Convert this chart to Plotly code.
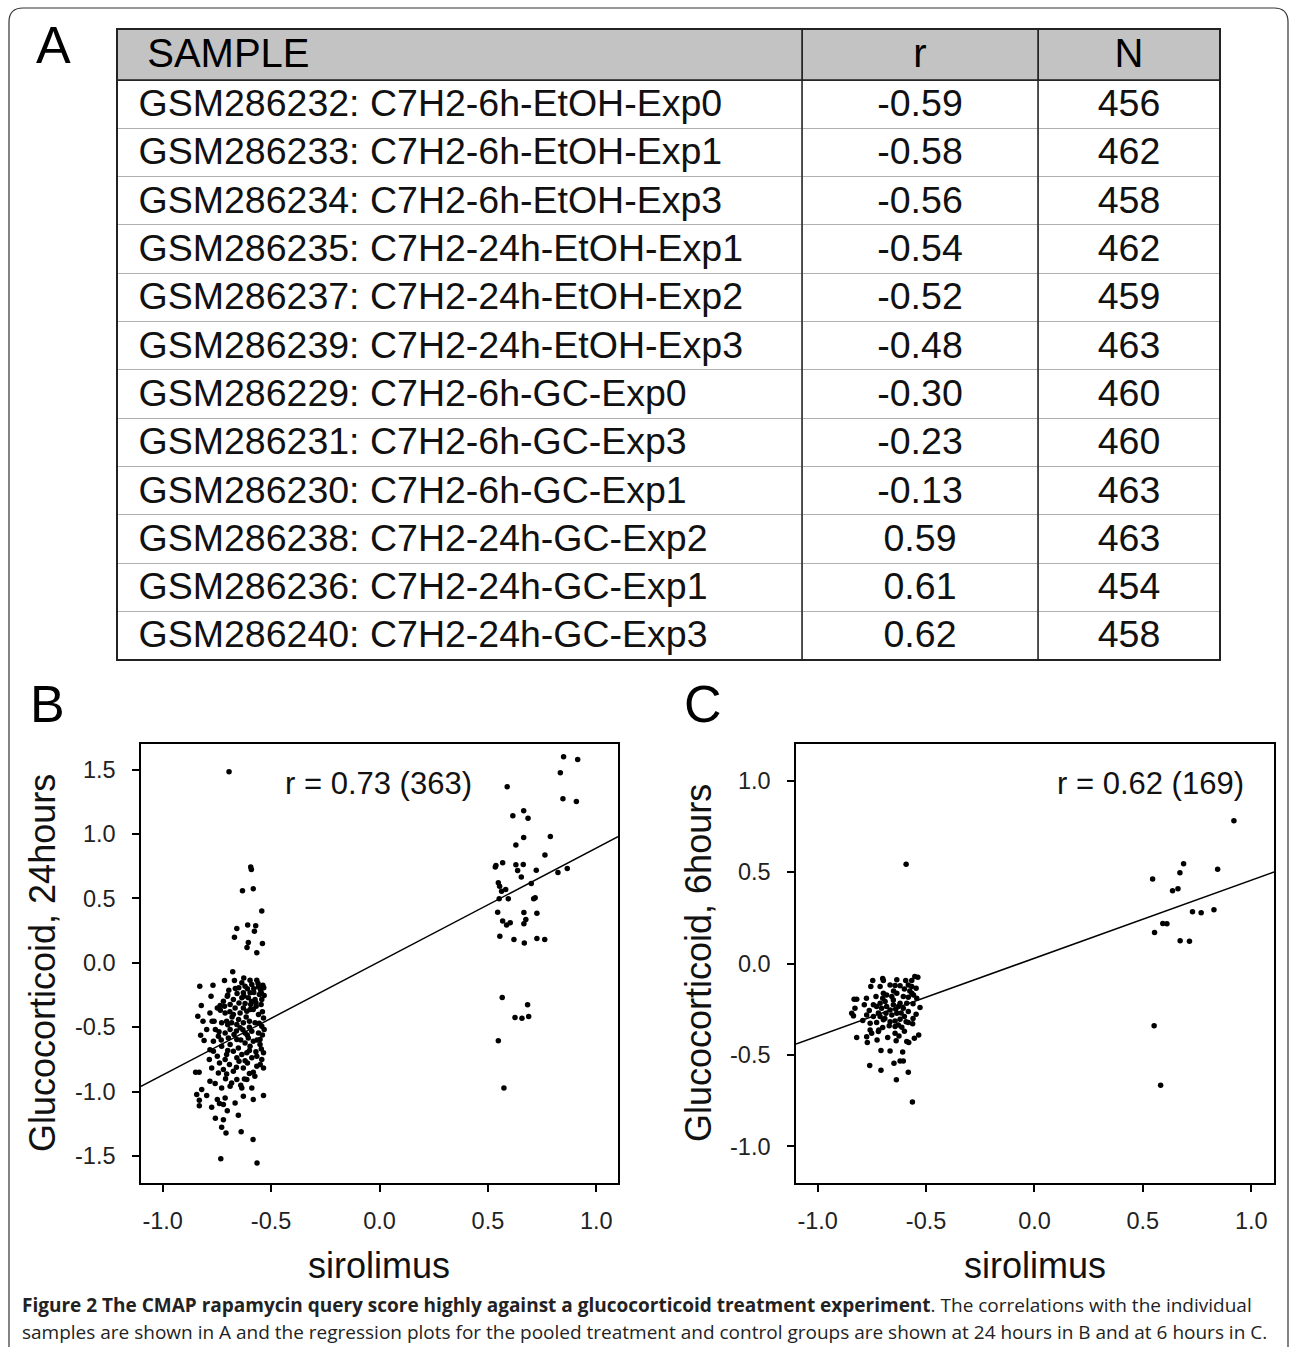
import plotly.graph_objects as go

W, H = 1290, 1347

# ---------------- Panel A data ----------------
samples = [
    "GSM286232: C7H2-6h-EtOH-Exp0",
    "GSM286233: C7H2-6h-EtOH-Exp1",
    "GSM286234: C7H2-6h-EtOH-Exp3",
    "GSM286235: C7H2-24h-EtOH-Exp1",
    "GSM286237: C7H2-24h-EtOH-Exp2",
    "GSM286239: C7H2-24h-EtOH-Exp3",
    "GSM286229: C7H2-6h-GC-Exp0",
    "GSM286231: C7H2-6h-GC-Exp3",
    "GSM286230: C7H2-6h-GC-Exp1",
    "GSM286238: C7H2-24h-GC-Exp2",
    "GSM286236: C7H2-24h-GC-Exp1",
    "GSM286240: C7H2-24h-GC-Exp3",
]
r_values = [-0.59, -0.58, -0.56, -0.54, -0.52, -0.48, -0.30, -0.23, -0.13, 0.59, 0.61, 0.62]
n_values = [456, 462, 458, 462, 459, 463, 460, 460, 463, 463, 454, 458]
table_header = ["SAMPLE", "r", "N"]

# ---------------- Panel B data (24 hours) ----------------
b_points = [
    # treated cluster
    (0.849, 1.601), (0.914, 1.580), (0.834, 1.477), (0.589, 1.368), (0.846, 1.275), (0.908, 1.254),
    (0.615, 1.142), (0.665, 1.181), (0.685, 1.124), (0.788, 0.982), (0.665, 0.974), (0.629, 0.915),
    (0.763, 0.837), (0.537, 0.756), (0.568, 0.777), (0.629, 0.762), (0.663, 0.764), (0.534, 0.744),
    (0.637, 0.718), (0.723, 0.720), (0.823, 0.702), (0.866, 0.733), (0.654, 0.666), (0.700, 0.617),
    (0.548, 0.622), (0.554, 0.596), (0.582, 0.570), (0.563, 0.557), (0.552, 0.497), (0.594, 0.497),
    (0.711, 0.497), (0.718, 0.505), (0.545, 0.394), (0.666, 0.391), (0.726, 0.386), (0.675, 0.337),
    (0.568, 0.326), (0.603, 0.311), (0.586, 0.295), (0.666, 0.303), (0.555, 0.207), (0.620, 0.181),
    (0.668, 0.155), (0.726, 0.189), (0.762, 0.181), (0.566, -0.269), (0.683, -0.326), (0.625, -0.425),
    (0.657, -0.430), (0.688, -0.417), (0.548, -0.606), (0.574, -0.972),
    # control cluster, upper sparse part
    (-0.694, 1.484), (-0.594, 0.744), (-0.591, 0.725), (-0.632, 0.560), (-0.582, 0.575), (-0.543, 0.402),
    (-0.658, 0.267), (-0.608, 0.295), (-0.571, 0.288), (-0.577, 0.246), (-0.669, 0.199), (-0.605, 0.158),
    (-0.540, 0.150), (-0.611, 0.119), (-0.566, 0.078),
    # control cluster, dense part
    (-0.677, -0.070), (-0.715, -0.137), (-0.669, -0.137), (-0.626, -0.117), (-0.597, -0.135), (-0.566, -0.135),
    (-0.538, -0.174), (-0.829, -0.181), (-0.768, -0.174), (-0.635, -0.155), (-0.649, -0.194), (-0.695, -0.212),
    (-0.609, -0.202), (-0.580, -0.202), (-0.558, -0.187), (-0.534, -0.194), (-0.777, -0.259), (-0.702, -0.259),
    (-0.657, -0.238), (-0.628, -0.233), (-0.597, -0.233), (-0.554, -0.246), (-0.532, -0.254), (-0.822, -0.332),
    (-0.735, -0.332), (-0.715, -0.337), (-0.689, -0.324), (-0.648, -0.311), (-0.620, -0.316), (-0.594, -0.324),
    (-0.569, -0.337), (-0.546, -0.324), (-0.838, -0.415), (-0.814, -0.453), (-0.772, -0.453), (-0.763, -0.453),
    (-0.734, -0.368), (-0.712, -0.389), (-0.674, -0.402), (-0.643, -0.389), (-0.612, -0.376), (-0.582, -0.363),
    (-0.558, -0.402), (-0.535, -0.428), (-0.728, -0.466), (-0.705, -0.453), (-0.682, -0.466), (-0.658, -0.479),
    (-0.628, -0.466), (-0.600, -0.453), (-0.574, -0.466), (-0.543, -0.492), (-0.689, -0.518), (-0.643, -0.505),
    (-0.740, -0.536), (-0.825, -0.562), (-0.809, -0.604), (-0.743, -0.570), (-0.712, -0.544), (-0.671, -0.557),
    (-0.620, -0.544), (-0.589, -0.531), (-0.558, -0.544), (-0.532, -0.518), (-0.782, -0.674), (-0.766, -0.687),
    (-0.728, -0.648), (-0.689, -0.635), (-0.651, -0.661), (-0.620, -0.622), (-0.597, -0.648), (-0.551, -0.635),
    (-0.535, -0.699), (-0.748, -0.725), (-0.705, -0.712), (-0.658, -0.738), (-0.612, -0.699), (-0.566, -0.725),
    (-0.785, -0.751), (-0.738, -0.777), (-0.692, -0.790), (-0.648, -0.764), (-0.609, -0.777), (-0.566, -0.803),
    (-0.535, -0.816), (-0.774, -0.816), (-0.720, -0.829), (-0.674, -0.842), (-0.628, -0.816), (-0.582, -0.850),
    (-0.848, -0.850), (-0.832, -0.850), (-0.743, -0.855), (-0.705, -0.863), (-0.658, -0.907), (-0.623, -0.902),
    (-0.612, -0.907), (-0.782, -0.920), (-0.758, -0.938), (-0.682, -0.933), (-0.820, -0.984), (-0.728, -0.972),
    (-0.689, -0.959), (-0.635, -0.972), (-0.589, -0.972), (-0.843, -1.023), (-0.797, -1.031), (-0.748, -1.062),
    (-0.712, -1.049), (-0.628, -1.036), (-0.582, -1.062), (-0.535, -1.031), (-0.831, -1.067), (-0.831, -1.109),
    (-0.774, -1.122), (-0.738, -1.093), (-0.720, -1.101), (-0.666, -1.088), (-0.702, -1.148), (-0.757, -1.207),
    (-0.720, -1.218), (-0.651, -1.184), (-0.728, -1.277), (-0.708, -1.321), (-0.638, -1.311), (-0.583, -1.373),
    (-0.732, -1.521), (-0.565, -1.554),
    (-0.620, -0.181), (-0.589, -0.168), (-0.548, -0.212), (-0.605, -0.272), (-0.574, -0.285), (-0.543, -0.285),
    (-0.635, -0.272), (-0.674, -0.285), (-0.720, -0.298), (-0.748, -0.350), (-0.666, -0.350), (-0.628, -0.350),
    (-0.597, -0.363), (-0.551, -0.596), (-0.582, -0.609), (-0.543, -0.751), (-0.589, -0.738), (-0.635, -0.712),
    (-0.674, -0.687), (-0.712, -0.751), (-0.605, -0.583), (-0.658, -0.596), (-0.697, -0.583), (-0.766, -0.609),
    (-0.797, -0.518), (-0.757, -0.518), (-0.782, -0.389),
    (-0.560, -0.160), (-0.545, -0.235), (-0.570, -0.310), (-0.540, -0.380), (-0.555, -0.470), (-0.540, -0.560),
    (-0.565, -0.600), (-0.545, -0.670), (-0.570, -0.690), (-0.550, -0.790), (-0.575, -0.880), (-0.600, -0.500),
    (-0.615, -0.420), (-0.590, -0.300), (-0.610, -0.560), (-0.640, -0.600), (-0.660, -0.530), (-0.680, -0.420),
    (-0.690, -0.380), (-0.700, -0.480), (-0.650, -0.440), (-0.630, -0.520), (-0.600, -0.680), (-0.620, -0.760),
    (-0.660, -0.810), (-0.700, -0.680), (-0.730, -0.600), (-0.710, -0.900), (-0.640, -0.950), (-0.600, -0.860),
    (-0.580, -0.230), (-0.625, -0.260), (-0.665, -0.200), (-0.700, -0.250),
]
b_line_x = [-1.10, 1.10]
b_line_y = [-0.96, 0.98]
b_label = "r = 0.73 (363)"

# ---------------- Panel C data (6 hours) ----------------
c_points = [
    # treated cluster
    (0.920, 0.781), (0.688, 0.546), (0.671, 0.496), (0.845, 0.515), (0.545, 0.462), (0.637, 0.398),
    (0.662, 0.409), (0.729, 0.283), (0.769, 0.277), (0.828, 0.294), (0.592, 0.219), (0.611, 0.217),
    (0.554, 0.170), (0.672, 0.124), (0.715, 0.122), (0.552, -0.341), (0.582, -0.666),
    # control cluster
    (-0.592, 0.542),
    (-0.746, -0.093), (-0.700, -0.082), (-0.697, -0.093), (-0.635, -0.089), (-0.594, -0.093), (-0.566, -0.093),
    (-0.552, -0.071), (-0.538, -0.075), (-0.755, -0.126), (-0.712, -0.126), (-0.666, -0.117), (-0.643, -0.120),
    (-0.620, -0.122), (-0.582, -0.117), (-0.566, -0.126), (-0.546, -0.135), (-0.832, -0.195), (-0.820, -0.195),
    (-0.775, -0.190), (-0.731, -0.181), (-0.697, -0.162), (-0.682, -0.172), (-0.658, -0.181), (-0.635, -0.162),
    (-0.605, -0.181), (-0.582, -0.184), (-0.558, -0.172), (-0.543, -0.190), (-0.828, -0.245), (-0.785, -0.226),
    (-0.762, -0.257), (-0.728, -0.235), (-0.705, -0.245), (-0.682, -0.235), (-0.651, -0.226), (-0.628, -0.235),
    (-0.605, -0.245), (-0.582, -0.263), (-0.528, -0.241), (-0.843, -0.272), (-0.835, -0.286), (-0.774, -0.281),
    (-0.743, -0.290), (-0.712, -0.290), (-0.685, -0.272), (-0.658, -0.281), (-0.643, -0.314), (-0.620, -0.305),
    (-0.592, -0.318), (-0.562, -0.330), (-0.546, -0.277), (-0.792, -0.312), (-0.758, -0.327), (-0.728, -0.323),
    (-0.697, -0.308), (-0.666, -0.318), (-0.628, -0.336), (-0.582, -0.323), (-0.758, -0.363), (-0.718, -0.363),
    (-0.643, -0.345), (-0.612, -0.349), (-0.820, -0.405), (-0.774, -0.400), (-0.751, -0.381), (-0.720, -0.372),
    (-0.677, -0.405), (-0.643, -0.381), (-0.625, -0.396), (-0.589, -0.427), (-0.554, -0.409), (-0.534, -0.391),
    (-0.771, -0.432), (-0.726, -0.418), (-0.638, -0.423), (-0.580, -0.432), (-0.708, -0.476), (-0.666, -0.478),
    (-0.608, -0.484), (-0.760, -0.557), (-0.648, -0.546), (-0.620, -0.533), (-0.605, -0.533), (-0.708, -0.584),
    (-0.582, -0.595), (-0.637, -0.635), (-0.563, -0.757),
    (-0.651, -0.199), (-0.689, -0.208), (-0.620, -0.217), (-0.712, -0.217), (-0.589, -0.217), (-0.666, -0.254),
    (-0.635, -0.272), (-0.566, -0.162), (-0.743, -0.226),
    (-0.600, -0.140), (-0.575, -0.150), (-0.650, -0.150), (-0.700, -0.190), (-0.615, -0.270), (-0.560, -0.220),
    (-0.690, -0.300), (-0.600, -0.290), (-0.720, -0.270), (-0.640, -0.250), (-0.560, -0.300), (-0.670, -0.340),
    (-0.600, -0.370), (-0.700, -0.350),
]
c_line_x = [-1.10, 1.105]
c_line_y = [-0.44, 0.50]
c_label = "r = 0.62 (169)"

x_tickvals = [-1.0, -0.5, 0.0, 0.5, 1.0]
b_y_tickvals = [-1.5, -1.0, -0.5, 0.0, 0.5, 1.0, 1.5]
c_y_tickvals = [-1.0, -0.5, 0.0, 0.5, 1.0]

x_title = "sirolimus"
b_y_title = "Glucocorticoid, 24hours"
c_y_title = "Glucocorticoid, 6hours"
caption_bold = "Figure 2 The CMAP rapamycin query score highly against a glucocorticoid treatment experiment"
caption_rest1 = ". The correlations with the individual"
caption_line2 = ("samples are shown in A and the regression plots for the pooled treatment and control "
                 "groups are shown at 24 hours in B and at 6 hours in C.")

# ---------------- helpers ----------------
def px(x):
    return x / W


def py(y):
    return 1 - y / H


def tick_text(vals):
    # hyphen-minus, as in the original figure
    return [f"{v:.1f}" for v in vals]


FONT = "Liberation Sans, Arial, sans-serif"

fig = go.Figure()

# ---- Table (panel A) ----
fig.add_trace(go.Table(
    domain=dict(x=[px(117), px(1220)], y=[py(660), py(29)]),
    columnwidth=[685, 236, 182],
    header=dict(
        values=["\u00a0\u00a0" + table_header[0], table_header[1], table_header[2]],
        align=["left", "center", "center"],
        fill_color="#c3c3c3",
        line=dict(color="#333333", width=1),
        font=dict(family=FONT, size=40, color="black"),
        height=51,
    ),
    cells=dict(
        values=[["\u00a0\u200a" + s for s in samples], [f"{v:.2f}" for v in r_values], n_values],
        align=["left", "center", "center"],
        fill_color="white",
        line=dict(color="#b0b0b0", width=1),
        font=dict(family=FONT, size=37.5, color="#111111"),
        height=48.3,
    ),
))

# ---- Scatter panels ----
fig.add_trace(go.Scatter(
    x=[p[0] for p in b_points], y=[p[1] for p in b_points], mode="markers",
    marker=dict(size=5.5, color="black"), xaxis="x", yaxis="y", showlegend=False,
))
fig.add_trace(go.Scatter(
    x=b_line_x, y=b_line_y, mode="lines", line=dict(color="black", width=1.5),
    xaxis="x", yaxis="y", showlegend=False,
))
fig.add_trace(go.Scatter(
    x=[p[0] for p in c_points], y=[p[1] for p in c_points], mode="markers",
    marker=dict(size=5.5, color="black"), xaxis="x2", yaxis="y2", showlegend=False,
))
fig.add_trace(go.Scatter(
    x=c_line_x, y=c_line_y, mode="lines", line=dict(color="black", width=1.5),
    xaxis="x2", yaxis="y2", showlegend=False,
))

axis_common = dict(
    showline=True, linecolor="black", linewidth=1.5, mirror=True,
    ticks="outside", ticklen=7, tickwidth=1.5, tickcolor="black",
    showgrid=False, zeroline=False,
    tickfont=dict(family=FONT, size=23.5, color="#222222"),
)

fig.update_layout(
    width=W, height=H,
    margin=dict(l=0, r=0, t=0, b=0),
    paper_bgcolor="white", plot_bgcolor="white",
    showlegend=False,
    xaxis=dict(axis_common, domain=[px(141), px(618)], range=[-1.10, 1.10],
               tickvals=x_tickvals, ticktext=tick_text(x_tickvals), anchor="y", ticklabelstandoff=9),
    yaxis=dict(axis_common, domain=[py(1183), py(744)], range=[-1.71, 1.70],
               tickvals=b_y_tickvals, ticktext=tick_text(b_y_tickvals), anchor="x", ticklabelstandoff=12),
    xaxis2=dict(axis_common, domain=[px(796), px(1274)], range=[-1.10, 1.105],
                tickvals=x_tickvals, ticktext=tick_text(x_tickvals), anchor="y2", ticklabelstandoff=9),
    yaxis2=dict(axis_common, domain=[py(1183), py(744)], range=[-1.20, 1.20],
                tickvals=c_y_tickvals, ticktext=tick_text(c_y_tickvals), anchor="x2", ticklabelstandoff=12),
)

# ---- table overlay lines (dark column separators and frame) ----
dark = dict(color="#222222", width=1.5)
for xc in (802, 1038):
    fig.add_shape(type="line", xref="paper", yref="paper", x0=px(xc), x1=px(xc),
                  y0=py(660), y1=py(29), line=dark, layer="above")
fig.add_shape(type="rect", xref="paper", yref="paper", x0=px(117), x1=px(1220),
              y0=py(660), y1=py(29), line=dict(color="#222222", width=2), layer="above")
fig.add_shape(type="line", xref="paper", yref="paper", x0=px(117), x1=px(1220),
              y0=py(80), y1=py(80), line=dark, layer="above")

# ---- outer rounded frame ----
path = (f"M {px(9)},{py(1360)} L {px(9)},{py(22)} "
        f"Q {px(9)},{py(8)} {px(23)},{py(8)} L {px(1274)},{py(8)} "
        f"Q {px(1288)},{py(8)} {px(1288)},{py(22)} L {px(1288)},{py(1360)}")
fig.add_shape(type="path", xref="paper", yref="paper", path=path,
              line=dict(color="#333333", width=1.2), layer="above")

# ---- annotations ----
ann = []
for letter, x, y in (("A", 53, 45), ("B", 47, 704), ("C", 703, 704)):
    ann.append(dict(text=letter, x=px(x), y=py(y), xref="paper", yref="paper",
                    xanchor="center", yanchor="middle", showarrow=False,
                    font=dict(family=FONT, size=52, color="black")))
ann.append(dict(text=b_label, x=px(378), y=py(783), xref="paper", yref="paper",
                xanchor="center", yanchor="middle", showarrow=False,
                font=dict(family=FONT, size=31, color="#111111")))
ann.append(dict(text=c_label, x=px(1150), y=py(783), xref="paper", yref="paper",
                xanchor="center", yanchor="middle", showarrow=False,
                font=dict(family=FONT, size=31, color="#111111")))
for xc in (379, 1035):
    ann.append(dict(text=x_title, x=px(xc), y=py(1265), xref="paper", yref="paper",
                    xanchor="center", yanchor="middle", showarrow=False,
                    font=dict(family=FONT, size=36, color="#111111")))
for xc, t in ((43, b_y_title), (699, c_y_title)):
    ann.append(dict(text=t, x=px(xc), y=py(963), xref="paper", yref="paper",
                    xanchor="center", yanchor="middle", showarrow=False, textangle=-90,
                    font=dict(family=FONT, size=36, color="#111111")))
CAPF = "Open Sans, Liberation Sans Narrow, sans-serif"
ann.append(dict(text=f"<b>{caption_bold}</b>{caption_rest1}", x=px(20), y=py(1305),
                xref="paper", yref="paper", xanchor="left", yanchor="middle", showarrow=False,
                font=dict(family=CAPF, size=19, color="#222222")))
ann.append(dict(text=caption_line2, x=px(20), y=py(1332),
                xref="paper", yref="paper", xanchor="left", yanchor="middle", showarrow=False,
                font=dict(family=CAPF, size=19, color="#222222")))
fig.update_layout(annotations=ann)

fig.write_html("out.html")
